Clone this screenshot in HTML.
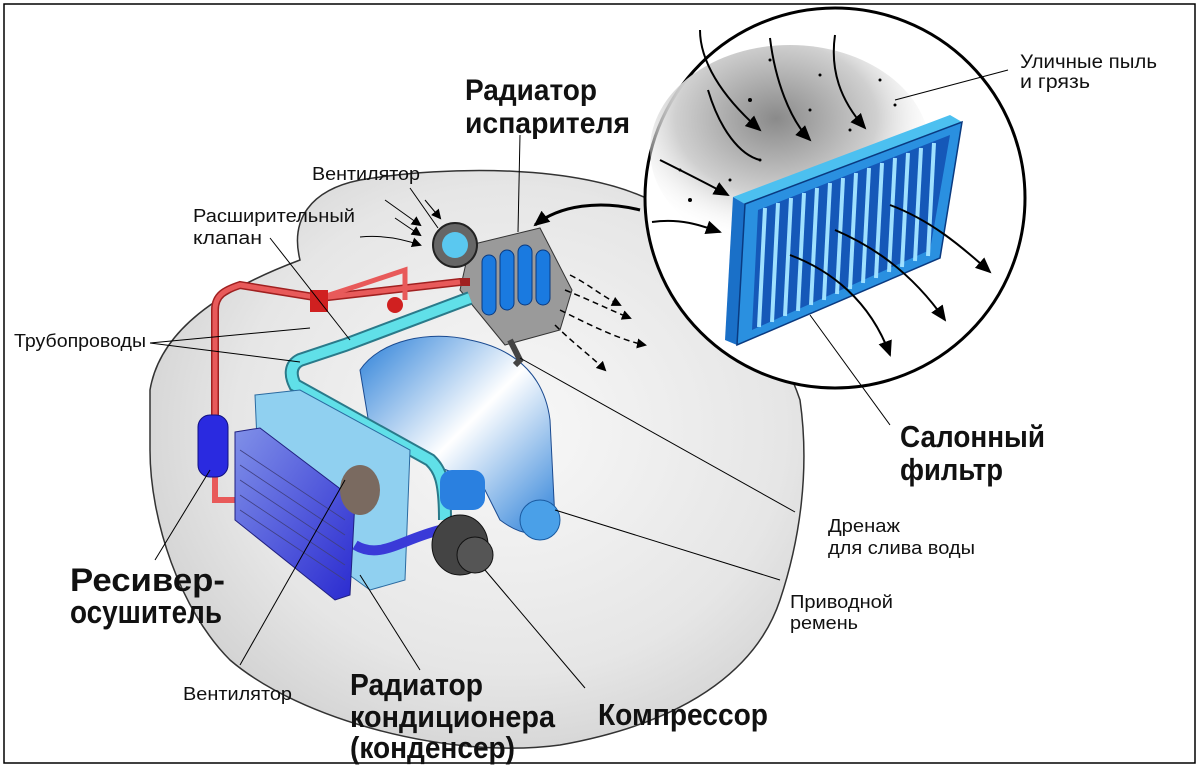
<!DOCTYPE html>
<html><head><meta charset="utf-8"><style>
html,body{margin:0;padding:0;background:#fff}
svg{display:block}
text{font-family:"Liberation Sans Narrow","Liberation Sans",sans-serif;fill:#111}
.b{font-weight:bold}
</style></head><body>
<svg width="1200" height="767" viewBox="0 0 1200 767" xmlns="http://www.w3.org/2000/svg">
<defs>
<radialGradient id="car" cx="0.55" cy="0.45" r="0.6">
<stop offset="0" stop-color="#f8f8f8"/><stop offset="0.7" stop-color="#e6e6e6"/><stop offset="1" stop-color="#d2d2d2"/></radialGradient>
<radialGradient id="dust" cx="0.45" cy="0.35" r="0.6">
<stop offset="0" stop-color="#8a8a8a"/><stop offset="0.6" stop-color="#d0d0d0"/><stop offset="1" stop-color="#fff" stop-opacity="0"/></radialGradient>
<linearGradient id="eng" x1="0" y1="0" x2="1" y2="1"><stop offset="0" stop-color="#2a7fd8"/><stop offset="0.5" stop-color="#ffffff"/><stop offset="1" stop-color="#2a7fd8"/></linearGradient>
<linearGradient id="cond" x1="0" y1="0" x2="1" y2="1"><stop offset="0" stop-color="#8090e8"/><stop offset="1" stop-color="#2a2ad0"/></linearGradient>
<marker id="ah" markerWidth="10" markerHeight="10" refX="8" refY="5" orient="auto" markerUnits="userSpaceOnUse"><path d="M0,0 L10,5 L0,10 z" fill="#000"/></marker>
<marker id="ahs" markerWidth="16" markerHeight="14" refX="14" refY="7" orient="auto" markerUnits="userSpaceOnUse"><path d="M0,0 L16,7 L0,14 z" fill="#000"/></marker>
</defs>
<rect x="4" y="4" width="1191" height="759" fill="#fff" stroke="#000" stroke-width="1.5"/>

<!-- car body -->
<path d="M150,390 C160,330 220,290 300,260 C290,220 310,190 360,180 C450,165 580,165 650,200 C720,250 780,340 800,400 C810,470 800,540 780,600 C760,660 700,720 560,745 C450,760 300,720 230,660 C180,610 150,520 150,450 Z" fill="url(#car)" stroke="#333" stroke-width="1.5"/>

<!-- magnifier circle -->
<circle cx="835" cy="198" r="190" fill="#fff" stroke="#000" stroke-width="3"/>
<ellipse cx="790" cy="150" rx="140" ry="105" fill="url(#dust)"/>
<path d="M640,210 C600,200 560,205 535,225" fill="none" stroke="#000" stroke-width="3" marker-end="url(#ahs)"/>
<!-- filter -->
<polygon points="733,197 950,115 962,122 745,204" fill="#4cc0f0"/>
<polygon points="733,197 745,204 737,345 725,340" fill="#1a70c8"/>
<polygon points="745,204 962,122 940,258 737,345" fill="#2a90e0" stroke="#0a3a80" stroke-width="1.5"/>
<polygon points="758,210 950,135 930,250 752,330" fill="#1558b8"/>
<g stroke="#9fe0ff" stroke-width="4">
<line x1="765" y1="208" x2="759" y2="327"/><line x1="778" y1="203" x2="772" y2="322"/><line x1="791" y1="198" x2="785" y2="316"/><line x1="804" y1="193" x2="798" y2="311"/><line x1="817" y1="188" x2="811" y2="305"/><line x1="830" y1="183" x2="824" y2="300"/><line x1="843" y1="178" x2="837" y2="294"/><line x1="856" y1="173" x2="850" y2="289"/><line x1="869" y1="168" x2="863" y2="283"/><line x1="882" y1="163" x2="876" y2="278"/><line x1="895" y1="158" x2="889" y2="272"/><line x1="908" y1="153" x2="902" y2="267"/><line x1="921" y1="148" x2="915" y2="261"/><line x1="934" y1="143" x2="928" y2="256"/>
</g>
<g fill="none" stroke="#000" stroke-width="2">
<path d="M700,30 C700,60 720,95 760,130" marker-end="url(#ahs)"/>
<path d="M770,38 C775,80 790,120 810,140" marker-end="url(#ahs)"/>
<path d="M835,35 C830,70 840,100 865,128" marker-end="url(#ahs)"/>
<path d="M708,90 C720,130 740,155 760,160" />
<path d="M660,160 C690,175 710,185 728,195" marker-end="url(#ahs)"/>
<path d="M652,222 C680,218 700,225 720,232" marker-end="url(#ahs)"/>
<path d="M790,255 C830,270 870,300 890,355" marker-end="url(#ahs)"/>
<path d="M835,230 C870,245 910,270 945,320" marker-end="url(#ahs)"/>
<path d="M890,205 C930,220 960,245 990,272" marker-end="url(#ahs)"/>
</g>
<g fill="#000">
<circle cx="770" cy="60" r="1.5"/><circle cx="820" cy="75" r="1.5"/><circle cx="750" cy="100" r="2"/><circle cx="810" cy="110" r="1.5"/><circle cx="880" cy="80" r="1.5"/><circle cx="895" cy="105" r="1.5"/><circle cx="760" cy="160" r="1.5"/><circle cx="730" cy="180" r="1.5"/><circle cx="690" cy="200" r="2"/><circle cx="680" cy="170" r="1.5"/><circle cx="850" cy="130" r="1.5"/>
</g>

<!-- engine block -->
<path d="M360,370 C380,340 430,330 470,340 C520,350 545,380 550,420 L555,520 C540,540 520,535 500,520 L480,480 C440,470 390,450 370,430 Z" fill="url(#eng)" stroke="#1a4a90" stroke-width="1"/>
<!-- evaporator box -->
<polygon points="470,245 540,228 572,290 560,330 505,345 460,290" fill="#9a9a9a" stroke="#333"/>
<g fill="#1a7ae0" stroke="#0a3a80">
<rect x="482" y="255" width="14" height="60" rx="7"/><rect x="500" y="250" width="14" height="60" rx="7"/><rect x="518" y="245" width="14" height="60" rx="7"/><rect x="536" y="250" width="14" height="55" rx="7"/>
</g>
<circle cx="455" cy="245" r="22" fill="#666" stroke="#222" stroke-width="2"/>
<circle cx="455" cy="245" r="13" fill="#5ac8f0"/>
<path d="M510,340 L520,360 L515,365" fill="none" stroke="#444" stroke-width="6"/>
<g fill="none" stroke="#000" stroke-width="1.5" stroke-dasharray="6,4">
<path d="M565,290 C590,300 610,310 630,318" marker-end="url(#ah)"/>
<path d="M560,310 C590,325 620,340 645,345" marker-end="url(#ah)"/>
<path d="M555,325 C575,345 590,355 605,370" marker-end="url(#ah)"/>
<path d="M570,275 C590,285 600,295 620,305" marker-end="url(#ah)"/>
</g>
<g fill="none" stroke="#000" stroke-width="1">
<path d="M385,200 L420,225" marker-end="url(#ah)"/><path d="M395,218 L420,235" marker-end="url(#ah)"/><path d="M360,237 C380,235 400,238 420,245" marker-end="url(#ah)"/><path d="M425,200 L440,218" marker-end="url(#ah)"/>
</g>

<!-- red pipes -->
<path d="M215,420 L215,310 C215,295 225,290 240,285 L320,298 L460,282 L470,282" fill="none" stroke="#a02020" stroke-width="8"/>
<path d="M215,420 L215,310 C215,295 225,290 240,285 L320,298 L460,282" fill="none" stroke="#e85a5a" stroke-width="5"/>
<path d="M320,298 L360,285 L405,270 L405,300" fill="none" stroke="#e85a5a" stroke-width="5"/>
<rect x="310" y="290" width="18" height="22" fill="#d02020"/>
<circle cx="395" cy="305" r="8" fill="#d02020"/>
<path d="M215,470 L215,500 L235,500" fill="none" stroke="#e85a5a" stroke-width="6"/>
<!-- cyan pipe -->
<path d="M470,298 L345,345 L300,360 C290,365 290,375 295,385 L430,460 C440,470 445,480 445,520" fill="none" stroke="#2a7a8a" stroke-width="14"/>
<path d="M470,298 L345,345 L300,360 C290,365 290,375 295,385 L430,460 C440,470 445,480 445,520" fill="none" stroke="#60e0e8" stroke-width="10"/>
<!-- receiver -->
<rect x="198" y="415" width="30" height="62" rx="12" fill="#2a2ae0" stroke="#101080"/>
<!-- radiators -->
<polygon points="255,395 300,390 410,450 405,580 370,590 260,510" fill="#90d0f0" stroke="#2a6aa0"/>
<polygon points="235,432 260,428 355,500 350,595 335,600 235,520" fill="url(#cond)" stroke="#202080"/>
<g stroke="#404080" stroke-width="0.8">
<line x1="240" y1="450" x2="345" y2="520"/><line x1="240" y1="465" x2="345" y2="535"/><line x1="240" y1="480" x2="345" y2="550"/><line x1="240" y1="495" x2="345" y2="565"/><line x1="240" y1="510" x2="345" y2="580"/>
</g>
<ellipse cx="360" cy="490" rx="20" ry="25" fill="#7a6a60"/>
<path d="M355,545 C380,560 400,540 440,530" fill="none" stroke="#3a3ad8" stroke-width="10"/>
<!-- compressor -->
<ellipse cx="460" cy="545" rx="28" ry="30" fill="#444" stroke="#111"/>
<circle cx="475" cy="555" r="18" fill="#555" stroke="#111"/>
<rect x="440" y="470" width="45" height="40" rx="12" fill="#2a80e0"/>
<circle cx="540" cy="520" r="20" fill="#4aa0e8" stroke="#1a5aa0"/>

<!-- leader lines -->
<g stroke="#000" stroke-width="1" fill="none">
<line x1="1008" y1="70" x2="895" y2="100"/>
<line x1="520" y1="135" x2="518" y2="232"/>
<line x1="410" y1="188" x2="438" y2="228"/>
<line x1="270" y1="238" x2="350" y2="340"/>
<line x1="150" y1="343" x2="310" y2="328"/>
<line x1="150" y1="343" x2="300" y2="362"/>
<line x1="890" y1="425" x2="810" y2="315"/>
<line x1="795" y1="512" x2="520" y2="358"/>
<line x1="780" y1="580" x2="555" y2="510"/>
<line x1="155" y1="560" x2="210" y2="470"/>
<line x1="240" y1="665" x2="345" y2="480"/>
<line x1="420" y1="670" x2="360" y2="575"/>
<line x1="585" y1="688" x2="485" y2="570"/>
</g>

<!-- labels -->
<text x="465" y="100" font-size="30" class="b" textLength="132" lengthAdjust="spacingAndGlyphs">Радиатор</text>
<text x="465" y="133" font-size="30" class="b" textLength="165" lengthAdjust="spacingAndGlyphs">испарителя</text>
<text x="1020" y="68" font-size="19" textLength="137" lengthAdjust="spacingAndGlyphs">Уличные пыль</text>
<text x="1020" y="88" font-size="19" textLength="70" lengthAdjust="spacingAndGlyphs">и грязь</text>
<text x="312" y="180" font-size="18" textLength="108" lengthAdjust="spacingAndGlyphs">Вентилятор</text>
<text x="193" y="222" font-size="18" textLength="162" lengthAdjust="spacingAndGlyphs">Расширительный</text>
<text x="193" y="244" font-size="18" textLength="69" lengthAdjust="spacingAndGlyphs">клапан</text>
<text x="14" y="347" font-size="18" textLength="132" lengthAdjust="spacingAndGlyphs">Трубопроводы</text>
<text x="900" y="447" font-size="31" class="b" textLength="145" lengthAdjust="spacingAndGlyphs">Салонный</text>
<text x="900" y="480" font-size="31" class="b" textLength="103" lengthAdjust="spacingAndGlyphs">фильтр</text>
<text x="828" y="532" font-size="18" textLength="72" lengthAdjust="spacingAndGlyphs">Дренаж</text>
<text x="828" y="554" font-size="18" textLength="147" lengthAdjust="spacingAndGlyphs">для слива воды</text>
<text x="790" y="608" font-size="18" textLength="103" lengthAdjust="spacingAndGlyphs">Приводной</text>
<text x="790" y="629" font-size="18" textLength="68" lengthAdjust="spacingAndGlyphs">ремень</text>
<text x="70" y="591" font-size="32" class="b" textLength="155" lengthAdjust="spacingAndGlyphs">Ресивер-</text>
<text x="70" y="623" font-size="32" class="b" textLength="152" lengthAdjust="spacingAndGlyphs">осушитель</text>
<text x="183" y="700" font-size="18" textLength="109" lengthAdjust="spacingAndGlyphs">Вентилятор</text>
<text x="350" y="695" font-size="31" class="b" textLength="133" lengthAdjust="spacingAndGlyphs">Радиатор</text>
<text x="350" y="727" font-size="31" class="b" textLength="205" lengthAdjust="spacingAndGlyphs">кондиционера</text>
<text x="350" y="758" font-size="31" class="b" textLength="165" lengthAdjust="spacingAndGlyphs">(конденсер)</text>
<text x="598" y="725" font-size="31" class="b" textLength="170" lengthAdjust="spacingAndGlyphs">Компрессор</text>
</svg>
</body></html>
